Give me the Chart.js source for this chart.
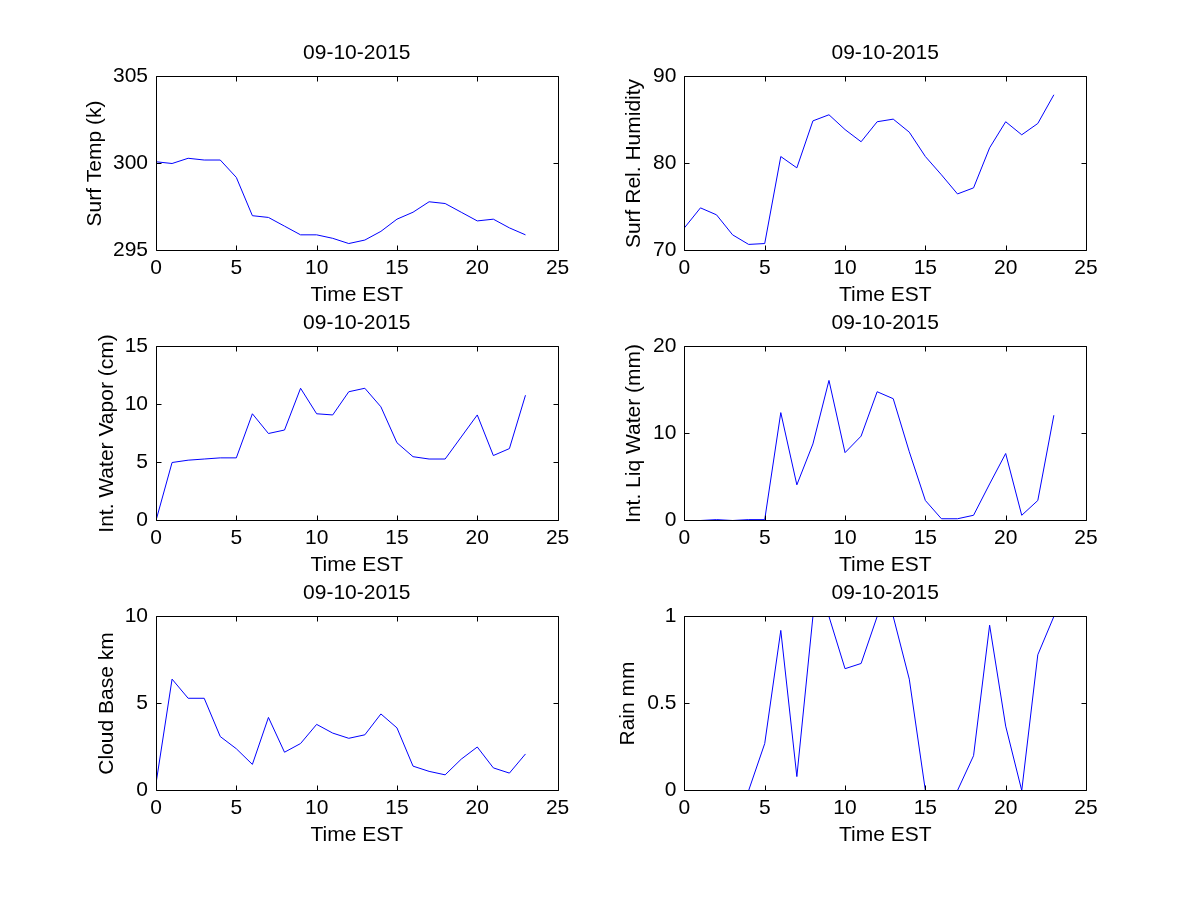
<!DOCTYPE html>
<html><head><meta charset="utf-8">
<script src="https://cdn.jsdelivr.net/npm/chart.js@4.4.0/dist/chart.umd.min.js"></script>
<style>
html,body{margin:0;padding:0;background:#fff;}
#wrap{position:relative;width:1200px;height:900px;background:#fff;overflow:hidden}
canvas{position:absolute}
</style></head><body><div id="wrap"></div>
<script>
// ---- data ----
const hours = [0,1,2,3,4,5,6,7,8,9,10,11,12,13,14,15,16,17,18,19,20,21,22,23];
const dateTitle = '09-10-2015';
const xLabel = 'Time EST';
const xTicks = [0,5,10,15,20,25];

const surfTemp = [300.1,300.0,300.3,300.2,300.2,299.2,297.0,296.9,296.4,295.9,295.9,295.7,295.4,295.6,296.1,296.8,297.2,297.8,297.7,297.2,296.7,296.8,296.3,295.9];
const surfTempTicks = [295,300,305];

const relHum = [72.6,74.9,74.1,71.8,70.7,70.8,80.8,79.5,84.9,85.6,83.9,82.5,84.8,85.1,83.6,80.8,78.7,76.5,77.2,81.8,84.8,83.3,84.6,87.9];
const relHumTicks = [70,80,90];

const waterVapor = [0.0,5.0,5.2,5.3,5.4,5.4,9.2,7.5,7.8,11.4,9.2,9.1,11.1,11.4,9.8,6.7,5.5,5.3,5.3,7.2,9.1,5.6,6.2,10.8];
const waterVaporTicks = [0,5,10,15];

const liqWater = [0,0,0.1,0,0.1,0.1,12.4,4.1,8.8,16.1,7.8,9.7,14.8,14.0,7.9,2.3,0.2,0.2,0.6,4.2,7.7,0.6,2.3,12.1];
const liqWaterTicks = [0,10,20];

const cloudBase = [0.4,6.4,5.3,5.3,3.1,2.4,1.5,4.2,2.2,2.7,3.8,3.3,3.0,3.2,4.4,3.6,1.4,1.1,0.9,1.8,2.5,1.3,1.0,2.1];
const cloudBaseTicks = [0,5,10];

const rain = [0,0,0,0,0,0.27,0.92,0.08,1,1,0.70,0.73,1,1,0.64,0,0,0,0.2,0.95,0.37,0,0.78,1];
const rainTicks = [0,0.5,1];

// ---- layout ----
const FONT = "'Liberation Sans', Arial, Helvetica, sans-serif";
const panels = [
  {values: surfTemp,   ticks: surfTempTicks,   ylabel: 'Surf Temp (k)',          cx: 0,   cy: 0,   yWidth: 156,  padRight: 42.4, yPad: 82.4},
  {values: relHum,     ticks: relHumTicks,     ylabel: 'Surf Rel. Humidity',     cx: 600, cy: 0,   yWidth: 84.4, padRight: 114,  yPad: 21.9},
  {values: waterVapor, ticks: waterVaporTicks, ylabel: 'Int. Water Vapor (cm)',  cx: 0,   cy: 270, yWidth: 156,  padRight: 42.4, yPad: 94.4},
  {values: liqWater,   ticks: liqWaterTicks,   ylabel: 'Int. Liq Water (mm)',    cx: 600, cy: 270, yWidth: 84.4, padRight: 114,  yPad: 21.9},
  {values: cloudBase,  ticks: cloudBaseTicks,  ylabel: 'Cloud Base km',          cx: 0,   cy: 540, yWidth: 156,  padRight: 42.4, yPad: 94.4},
  {values: rain,       ticks: rainTicks,       ylabel: 'Rain mm',                cx: 600, cy: 540, yWidth: 84.4, padRight: 114,  yPad: 15.4}
];

const framePlugin = {
  id: 'frame',
  afterDatasetsDraw(chart) {
    const {ctx, chartArea: a, scales: {x, y}} = chart;
    const L = Math.round(a.left) + 0.5, R = Math.round(a.right) + 0.5;
    const T = Math.floor(a.top) + 0.5, B = Math.floor(a.bottom) + 0.5;
    const tl = 5;
    ctx.save();
    ctx.strokeStyle = '#000';
    ctx.lineWidth = 1;
    ctx.beginPath();
    ctx.rect(L, T, R - L, B - T);
    x.ticks.forEach(t => {
      const px = Math.round(x.getPixelForValue(t.value)) + 0.5;
      ctx.moveTo(px, B); ctx.lineTo(px, B - tl);
      ctx.moveTo(px, T); ctx.lineTo(px, T + tl);
    });
    y.ticks.forEach(t => {
      const py = Math.floor(y.getPixelForValue(t.value)) + 0.5;
      ctx.moveTo(L, py); ctx.lineTo(L + tl, py);
      ctx.moveTo(R, py); ctx.lineTo(R - tl, py);
    });
    ctx.stroke();
    ctx.restore();
  }
};

const wrap = document.getElementById('wrap');
const font = {family: FONT, size: 21, weight: 'normal', lineHeight: 1.2};

panels.forEach(p => {
  const cv = document.createElement('canvas');
  cv.width = 600; cv.height = 320;
  cv.style.left = p.cx + 'px'; cv.style.top = p.cy + 'px';
  cv.style.width = '600px'; cv.style.height = '320px';
  wrap.appendChild(cv);
  new Chart(cv, {
    type: 'line',
    data: {
      datasets: [{
        data: hours.map((h, i) => ({x: h, y: p.values[i]})),
        borderColor: '#0000ff', borderWidth: 1, pointRadius: 0, tension: 0, fill: false,
        clip: {left: 0, right: 0, top: 0, bottom: 0}
      }]
    },
    options: {
      responsive: false, animation: false, devicePixelRatio: 1,
      layout: {padding: {left: 0, right: p.padRight, top: 0, bottom: 0}},
      plugins: {
        legend: {display: false}, tooltip: {enabled: false},
        title: {display: true, text: dateTitle, fullSize: false, color: '#000', font: font, padding: {top: 40.9, bottom: 10.4}}
      },
      scales: {
        x: {
          type: 'linear', min: 0, max: 25,
          afterBuildTicks: s => { s.ticks = xTicks.map(v => ({value: v})); },
          grid: {display: false, drawTicks: false}, border: {display: false},
          ticks: {color: '#000', font: font, padding: 5.4, maxRotation: 0, autoSkip: false, callback: v => String(v)},
          title: {display: true, text: xLabel, color: '#000', font: font, padding: {top: 0, bottom: 12.4}},
          afterFit: s => { s.height = 69.5; }
        },
        y: {
          type: 'linear', min: p.ticks[0], max: p.ticks[p.ticks.length - 1],
          afterBuildTicks: s => { s.ticks = p.ticks.map(v => ({value: v})); },
          grid: {display: false, drawTicks: false}, border: {display: false},
          ticks: {color: '#000', font: font, padding: 8, autoSkip: false, callback: v => String(v)},
          title: {display: true, text: p.ylabel, color: '#000', font: font, padding: {top: p.yPad, bottom: 0}},
          afterFit: s => { s.width = p.yWidth; }
        }
      }
    },
    plugins: [framePlugin]
  });
});
</script>
</body></html>
